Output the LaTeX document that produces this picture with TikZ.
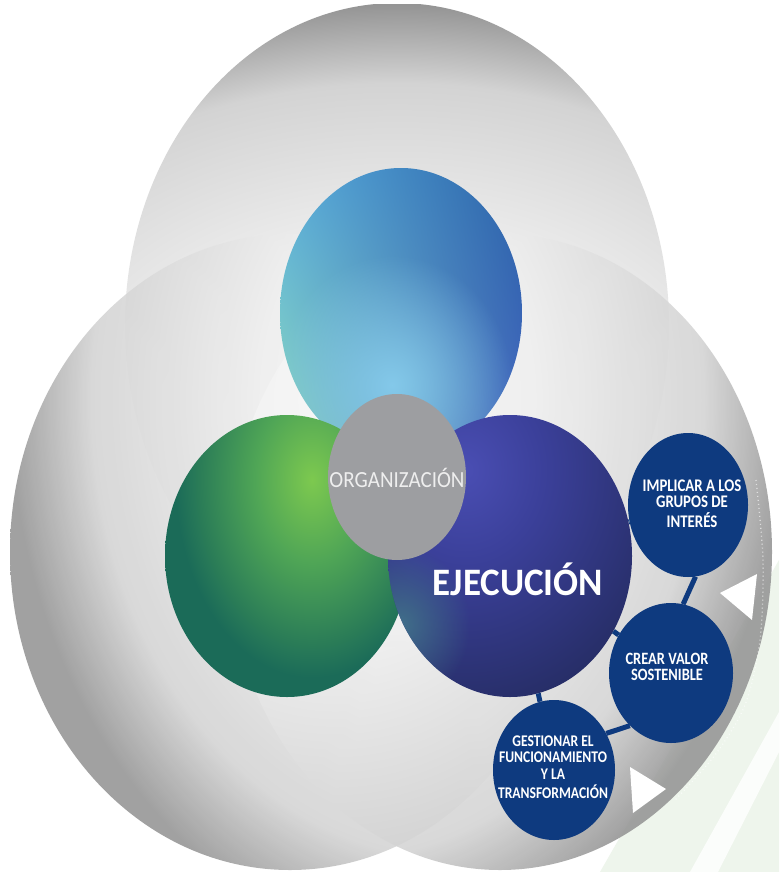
\documentclass[tikz,border=0pt]{standalone}
\usepackage{fontspec}
\setmainfont{Carlito}
\usepackage{graphicx}
\usetikzlibrary{shapes.geometric,fadings,shadings}
\definecolor{gA}{HTML}{F7F7F7}
\definecolor{gB}{HTML}{EFEFEF}
\definecolor{gC}{HTML}{D3D3D3}
\definecolor{gD}{HTML}{959595}
\definecolor{grA}{HTML}{7DC94F}
\definecolor{grB}{HTML}{4FA556}
\definecolor{grC}{HTML}{1B6B58}
\definecolor{inA}{HTML}{4A4EB3}
\definecolor{inB}{HTML}{3B409A}
\definecolor{inC}{HTML}{272E68}
\definecolor{blUL}{HTML}{5AAEDD}
\definecolor{blUR}{HTML}{2A62A8}
\definecolor{blLL}{HTML}{8CD8BC}
\definecolor{blLR}{HTML}{4668C2}
\definecolor{blGlow}{HTML}{84C9EA}
\definecolor{tealGlow}{HTML}{41708A}
\definecolor{cnavy}{HTML}{0E3A7F}
\definecolor{orggray}{HTML}{9D9EA1}
\definecolor{orgtext}{HTML}{EEEEEE}
\definecolor{palegreen}{HTML}{EEF5EC}

\pgfdeclareradialshading{grayshade}{\pgfpointorigin}{color(0bp)=(gA); color(11bp)=(gB); color(20.5bp)=(gC); color(25bp)=(gD); color(50bp)=(gD)}
\pgfdeclareradialshading{greenshade}{\pgfpointorigin}{color(0bp)=(grA); color(8bp)=(grB); color(19bp)=(grC); color(50bp)=(grC)}
\pgfdeclareradialshading{indigoshade}{\pgfpointorigin}{color(0bp)=(inA); color(7.5bp)=(inB); color(20bp)=(inC); color(50bp)=(inC)}
\pgfdeclareradialshading{glowshade}{\pgfpointorigin}{color(0bp)=(white); color(25bp)=(black); color(50bp)=(black)}
\pgfdeclarefading{glow}{\pgfuseshading{glowshade}}

\tikzset{
  conn/.style={cnavy, line width=5pt},
  smallcirc/.style={ellipse, fill=cnavy, inner sep=0pt},
  bigcirc/.style={ellipse, inner sep=0pt, minimum width=244pt, minimum height=282pt},
  smalltxt/.style={text=white, font=\bfseries, inner sep=0pt},
}

\begin{document}
\begin{tikzpicture}[x=1pt,y=-1pt]
\useasboundingbox (0,0) rectangle (779,872);
\fill[white] (0,0) rectangle (779,872);
% faint background
\fill[palegreen] (600,872) -- (779,560) -- (779,872) -- cycle;
\fill[white, opacity=.8] (690,872) -- (779,712) -- (779,752) -- (718,872) -- cycle;

% big gray circles
\begin{scope}
  \clip (397,325) ellipse [x radius=272pt, y radius=322pt];
  \shade[shading=grayshade] (-203,5) rectangle (997,875);
\end{scope}
\begin{scope}
  \clip (290,552) ellipse [x radius=280pt, y radius=318pt];
  \shade[shading=grayshade, opacity=.88] (10,-160) rectangle (910,960);
\end{scope}
\begin{scope}
  \clip (500,552) ellipse [x radius=272pt, y radius=318pt];
  \shade[shading=grayshade, opacity=.88] (-115,-160) rectangle (785,960);
\end{scope}

% colored circles
\begin{scope}
  \clip (401,313) ellipse [x radius=121pt, y radius=145pt];
  \shade[upper left=blUL, upper right=blUR, lower left=blLL, lower right=blLR] (280,168) rectangle (522,458);
  \fill[blGlow, path fading=glow] (392,385) ellipse [x radius=120pt, y radius=130pt];
\end{scope}
\begin{scope}
  \clip (287,556) ellipse [x radius=122pt, y radius=141pt];
  \shade[shading=greenshade] (132,220) rectangle (492,740);
\end{scope}
\begin{scope}
  \clip (510,556) ellipse [x radius=122pt, y radius=141pt];
  \shade[shading=indigoshade] (205,170) rectangle (725,770);
  \fill[tealGlow, path fading=glow] (400,625) ellipse [x radius=70pt, y radius=80pt];
\end{scope}

\node[bigcirc, minimum height=290pt, minimum width=242pt] (blue) at (401,313) {};
\node[bigcirc] (green) at (287,556) {};
\node[bigcirc] (ejec) at (510,556) {};

\node[ellipse, fill=orggray, minimum width=138pt, minimum height=166pt, inner sep=0pt] (org) at (397,477) {};
\node[text=orgtext, inner sep=0pt, anchor=base, font=\fontsize{21}{21}\selectfont] (orgtext) at (397,487) {\scalebox{1}[1.1]{ORGANIZACIÓN}};

\node[text=white, inner sep=0pt, anchor=base, font=\fontsize{37}{37}\selectfont\bfseries] (ejectext) at (518,595) {\scalebox{1}[1.05]{EJECUCIÓN}};

% small circles
\node[smallcirc, minimum width=120pt, minimum height=144pt] (impl) at (688,505) {};
\node[smallcirc, minimum width=124pt, minimum height=140pt] (crear) at (671,673) {};
\node[smallcirc, minimum width=122pt, minimum height=140pt] (gest) at (554,770) {};

\draw[conn] (ejec) -- (impl);
\draw[conn] (impl.-84) -- (crear.80);
\draw[conn] (ejec) -- (crear);
\draw[conn] (crear.-128) -- (gest.35);
\draw[conn] (ejec) -- (gest);

% dotted arc and triangles
\draw[white, line width=1.3pt, dash pattern=on 1pt off 3pt, opacity=.6] plot[smooth] coordinates {(756,480) (763,560) (760,640) (745,705) (715,755) (675,800)};
\fill[white] (720,593) -- (757,574) -- (752,620) -- cycle;
\fill[white] (630,767) -- (666,789) -- (633,813) -- cycle;

\node[smalltxt] (impltext) at (692,506) {\scalebox{1}[1.2]{\fontsize{14.8}{12.8}\selectfont\begin{tabular}{@{}c@{}}IMPLICAR A LOS\\GRUPOS DE\\INTERÉS\end{tabular}}};
\node[smalltxt] (creartext) at (667,669) {\scalebox{1}[1.2]{\fontsize{14.4}{13.3}\selectfont\begin{tabular}{@{}c@{}}CREAR VALOR\\SOSTENIBLE\end{tabular}}};
\node[smalltxt] (gesttext) at (553,769) {\scalebox{1}[1.2]{\fontsize{13.6}{13.7}\selectfont\begin{tabular}{@{}c@{}}GESTIONAR EL\\FUNCIONAMIENTO\\Y LA\\TRANSFORMACIÓN\end{tabular}}};
\end{tikzpicture}
\end{document}
